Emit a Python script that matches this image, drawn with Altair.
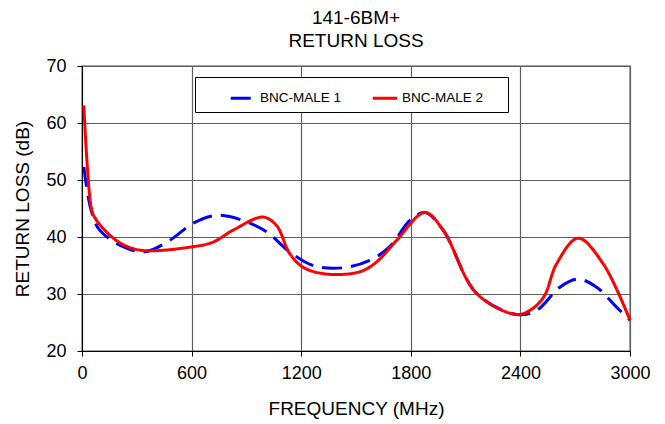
import altair as alt
import pandas as pd

series_names = ["BNC-MALE 1", "BNC-MALE 2"]
freq_1 = [10, 50, 97, 225, 343, 480, 608, 736, 882, 1010, 1137, 1265, 1429, 1575, 1685, 1795, 1877, 1977, 2160, 2379, 2488, 2616, 2716, 2817, 2926, 3000]
rl_1 = [52.3, 44.7, 41.2, 38.3, 37.4, 39.4, 42.4, 43.8, 42.9, 40.9, 37.4, 35.0, 34.6, 35.9, 38.3, 42.9, 44.3, 41.2, 30.1, 26.4, 27.1, 31.2, 32.6, 31.2, 27.7, 25.4]
freq_2 = [10, 50, 70, 188, 316, 608, 717, 827, 991, 1065, 1137, 1210, 1338, 1521, 1612, 1722, 1877, 1977, 2160, 2379, 2460, 2530, 2598, 2716, 2853, 3000]
rl_2 = [63.1, 45.3, 43.4, 39.4, 37.7, 38.3, 39.1, 41.2, 43.5, 42.0, 37.1, 34.7, 33.5, 33.9, 35.6, 39.4, 44.3, 41.2, 30.1, 26.4, 27.3, 29.6, 35.3, 39.8, 35.3, 25.4]
x_ticks = [0, 600, 1200, 1800, 2400, 3000]
y_ticks = [20, 30, 40, 50, 60, 70]

rows = []
for f, v in zip(freq_1, rl_1):
    rows.append({"freq": f, "rl": v, "series": series_names[0]})
for f, v in zip(freq_2, rl_2):
    rows.append({"freq": f, "rl": v, "series": series_names[1]})
df = pd.DataFrame(rows)

FONT = "Liberation Sans"
PAD_TAIL = "  \u2800"

chart = alt.Chart(df).mark_line(strokeWidth=3, interpolate="catmull-rom").encode(
    x=alt.X("freq:Q", scale=alt.Scale(domain=[0, 3000], nice=False),
            axis=alt.Axis(values=x_ticks, format="d", title="FREQUENCY (MHz)", labelFontSize=18,
                          titleFontSize=19, titleFontWeight="normal", labelPadding=8,
                          titlePadding=17, tickSize=5, tickColor="black", domainColor="black",
                          labelColor="black", titleColor="black", gridColor="#606060",
                          labelFlush=False)),
    y=alt.Y("rl:Q", scale=alt.Scale(domain=[20, 70], nice=False),
            axis=alt.Axis(values=y_ticks, title="RETURN LOSS (dB)", labelFontSize=18,
                          titleFontSize=19, titleFontWeight="normal", labelPadding=11,
                          titlePadding=13, tickSize=5, tickColor="black", domainColor="black",
                          labelColor="black", titleColor="black", gridColor="#606060")),
    color=alt.Color("series:N", scale=alt.Scale(domain=series_names, range=["#0000ff", "#ff0000"]),
                    legend=alt.Legend(title=None, orient="none", legendX=113, legendY=11,
                                      direction="horizontal", columns=2, columnPadding=2,
                                      symbolType="stroke", symbolSize=600, symbolStrokeWidth=3,
                                      symbolOffset=27,
                                      labelFontSize=13.5, labelColor="black", strokeColor="black",
                                      fillColor="white", padding=7, labelOffset=3,
                                      labelLimit=200,
                                      labelExpr="datum.label == 'BNC-MALE 2' ? datum.label + '" + PAD_TAIL + "' : datum.label")),
    strokeDash=alt.StrokeDash("series:N", scale=alt.Scale(domain=series_names, range=[[20, 9], [1, 0]]),
                              legend=None),
).properties(
    width=548, height=285,
    title=alt.TitleParams(["141-6BM+", "RETURN LOSS"], fontSize=19, fontWeight="normal",
                          font=FONT, color="black", offset=6, lineHeight=23),
    autosize=alt.AutoSizeParams(type="none"),
    padding={"left": 74, "top": 58, "right": 27, "bottom": 72},
).configure(font=FONT).configure_view(stroke="#888888", strokeWidth=1.5).configure_axis(
    labelFont=FONT, titleFont=FONT, gridWidth=1.2
)

chart.save("out.html", embed_options={"renderer": "svg", "actions": False})
